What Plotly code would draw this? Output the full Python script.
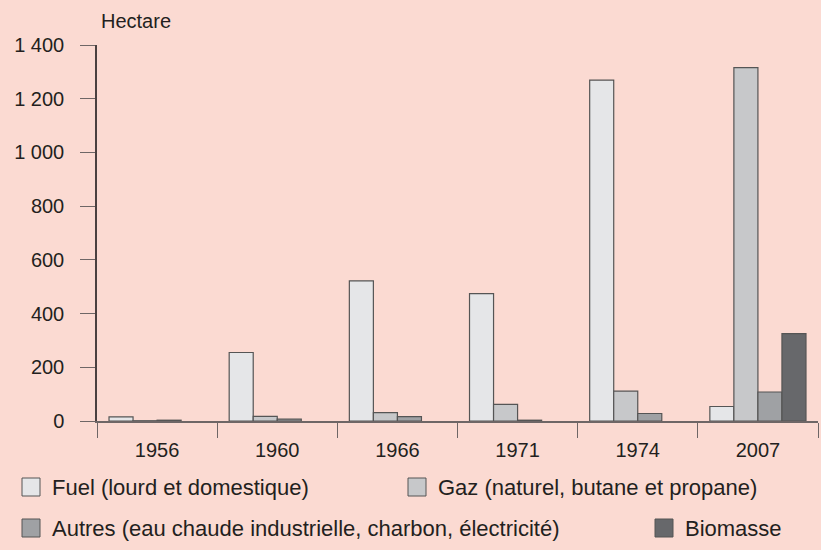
import plotly.graph_objects as go

years = ["1956", "1960", "1966", "1971", "1974", "2007"]
series_names = [
    "Fuel (lourd et domestique)",
    "Gaz (naturel, butane et propane)",
    "Autres (eau chaude industrielle, charbon, électricité)",
    "Biomasse",
]
fuel = [15, 255, 522, 474, 1269, 54]
gaz = [1, 17, 31, 62, 111, 1316]
autres = [3, 7, 16, 3, 28, 108]
biomasse = [None, None, None, None, None, 325]
y_ticks = [0, 200, 400, 600, 800, 1000, 1200, 1400]

values = [fuel, gaz, autres, biomasse]
colors = ["#E5E6E8", "#C7C8CA", "#9FA1A4", "#67686B"]
BG = "#FBDAD2"
FONT = "Liberation Sans, Arial, sans-serif"

W, H = 821, 550
L, R, T, B = 97, 3, 45, 129
pw, ph = W - L - R, H - T - B


def px_x(p):
    return (p - L) / pw


def px_y(p):
    return (H - B - p) / ph


fig = go.Figure()
for name, vals, col in zip(series_names, values, colors):
    fig.add_trace(go.Bar(
        x=years, y=vals, name=name,
        marker=dict(color=col, line=dict(color="#555555", width=1.2)),
        showlegend=False,
    ))

# manual legend
legend_pos = [(22, 487), (408, 487), (22, 528), (655, 528)]
shapes = []
annotations = []
for (lx, ly), name, col in zip(legend_pos, series_names, colors):
    shapes.append(dict(
        type="rect", xref="paper", yref="paper",
        x0=px_x(lx), x1=px_x(lx + 18), y0=px_y(ly + 9), y1=px_y(ly - 9),
        fillcolor=col, line=dict(color="#555555", width=1),
    ))
    annotations.append(dict(
        text=name, xref="paper", yref="paper", x=px_x(lx + 28), y=px_y(ly),
        xanchor="left", yanchor="middle", showarrow=False,
        font=dict(size=22, color="#231F20", family=FONT),
    ))

annotations.append(dict(
    text="Hectare", xref="paper", yref="paper", x=px_x(99), y=px_y(21),
    xanchor="left", yanchor="middle", showarrow=False,
    font=dict(size=20, color="#231F20", family=FONT),
))

fig.update_layout(
    width=W, height=H,
    margin=dict(l=L, r=R, t=T, b=B),
    paper_bgcolor=BG, plot_bgcolor=BG,
    barmode="group", bargap=0.2, bargroupgap=0,
    separators=", ",
    font=dict(family=FONT, size=20, color="#231F20"),
    shapes=shapes, annotations=annotations,
)
fig.update_xaxes(
    type="category", tickson="boundaries", ticks="outside", ticklen=15,
    tickcolor="#6E6666", tickwidth=1.2,
    showline=True, linecolor="#6E6666", linewidth=1.5,
    showgrid=False, zeroline=False,
    tickfont=dict(size=20), ticklabelstandoff=10,
)
fig.update_yaxes(
    range=[0, 1400], tickvals=y_ticks, tickformat=",",
    ticks="outside", ticklen=15, tickcolor="#6E6666", tickwidth=1.2,
    showline=True, linecolor="#4A4040", linewidth=1.5,
    showgrid=False, zeroline=False,
    tickfont=dict(size=20), ticklabelstandoff=12,
)

fig.write_html(
    "out.html",
    config={"displayModeBar": False},
    post_script="document.body.style.margin='0';document.body.style.padding='0';"
                "document.body.style.overflow='hidden';",
)
